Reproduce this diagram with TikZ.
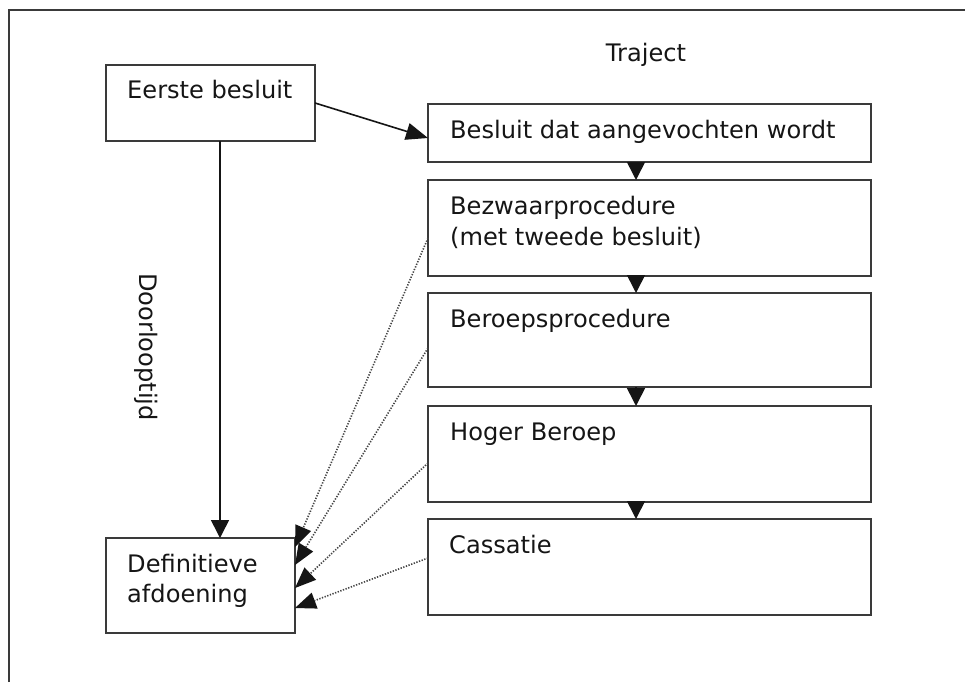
\documentclass[tikz,border=0pt]{standalone}
\usepackage{fontspec}
\setmainfont{DejaVu Sans}
\usetikzlibrary{arrows.meta}
\definecolor{frame}{HTML}{3A3A3A}
\definecolor{ink}{HTML}{151515}
\definecolor{dots}{HTML}{444444}
\begin{document}
\begin{tikzpicture}[x=1pt,y=-1pt,
  box/.style={draw=frame,line width=2.6pt,fill=white,anchor=north west,inner sep=0pt,outer sep=0pt},
  lbl/.style={anchor=base west,inner sep=0pt,text=ink,font=\fontsize{24.1}{28}\selectfont},
  arr/.style={draw=ink,line width=1.6pt,-{Triangle[length=22pt,width=17pt]}},
  chain/.style={draw=ink,line width=1.6pt,-{Triangle[length=18pt,width=18pt]}},
  dotarr/.style={draw=dots,line width=1.6pt,dash pattern=on 1.3pt off 1.5pt,-{Triangle[length=21pt,width=17pt,fill=ink,color=ink,line width=0pt]}}
]
\useasboundingbox (0,0) rectangle (965,682);
\fill[white] (0,0) rectangle (965,682);
% outer frame
\draw[frame,line width=2.4pt] (9,682) -- (9,10) -- (965,10);

% boxes
\node[box,minimum width=209pt,minimum height=76pt] (e) at (106,65) {};
\node[box,minimum width=443pt,minimum height=58pt] (b1) at (428,104) {};
\node[box,minimum width=443pt,minimum height=96pt] (b2) at (428,180) {};
\node[box,minimum width=443pt,minimum height=94pt] (b3) at (428,293) {};
\node[box,minimum width=443pt,minimum height=96pt] (b4) at (428,406) {};
\node[box,minimum width=443pt,minimum height=96pt] (b5) at (428,519) {};
\node[box,minimum width=189pt,minimum height=95pt] (d) at (106,538) {};

% labels
\node[lbl] (te) at (127,99) {Eerste besluit};
\node[lbl] (t1) at (450,138) {Besluit dat aangevochten wordt};
\node[lbl] (t2a) at (450,214) {Bezwaarprocedure};
\node[lbl] (t2b) at (450,245) {(met tweede besluit)};
\node[lbl] (t3) at (450,327) {Beroepsprocedure};
\node[lbl] (t4) at (450,440) {Hoger Beroep};
\node[lbl] (t5) at (449,553) {Cassatie};
\node[lbl] (td1) at (127,572) {Definitieve};
\node[lbl] (td2) at (127,602) {afdoening};
\node[lbl,anchor=base] (tr) at (646,62) {Traject};
\node[lbl,anchor=base,rotate=-90] (dl) at (139,347) {Doorlooptijd};

% connectors
\draw[arr] (e.east) -- ([yshift=-5pt]b1.west);
\draw[chain] ([xshift=9.5pt]e.south) -- ([xshift=19.5pt]d.north);
\draw[chain] ([xshift=-13.5pt]b1.south) -- ([xshift=-13.5pt]b2.north);
\draw[chain] ([xshift=-13.5pt]b2.south) -- ([xshift=-13.5pt]b3.north);
\draw[chain] ([xshift=-13.5pt]b3.south) -- ([xshift=-13.5pt]b4.north);
\draw[chain] ([xshift=-13.5pt]b4.south) -- ([xshift=-13.5pt]b5.north);

\draw[dotarr] ([yshift=-10pt]b2.west) -- ([yshift=38.5pt]d.east);
\draw[dotarr] ([yshift=-8pt]b3.west) -- ([yshift=20.5pt]d.east);
\draw[dotarr] ([yshift=-9pt]b4.west) -- ([yshift=-2.5pt]d.east);
\draw[dotarr] ([yshift=9pt]b5.west) -- ([yshift=-22.5pt]d.east);
\end{tikzpicture}
\end{document}
